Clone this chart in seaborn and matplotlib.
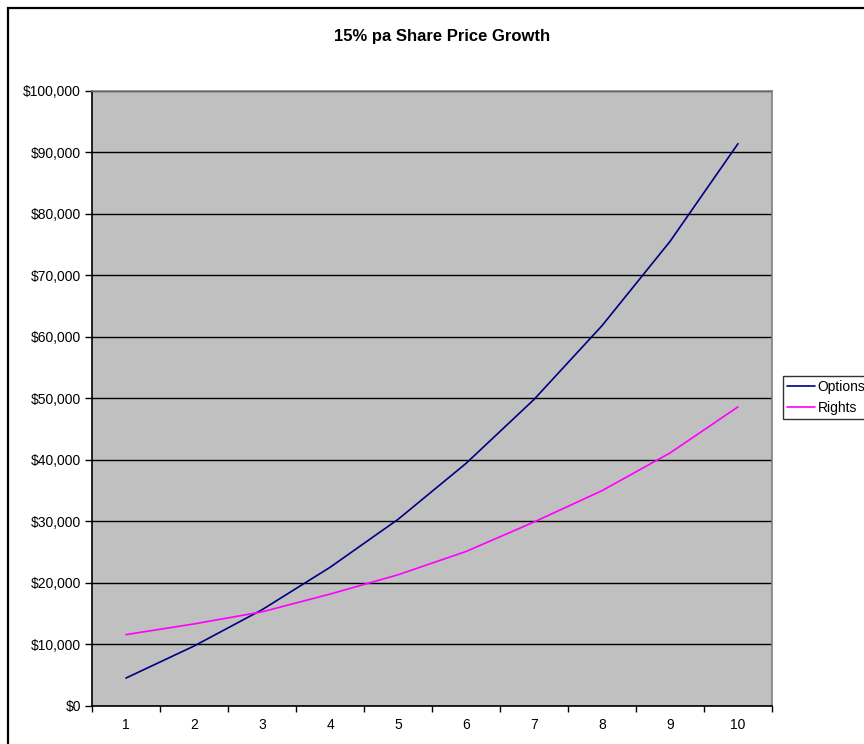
import matplotlib
matplotlib.use("Agg")
import matplotlib.pyplot as plt
from matplotlib.patches import Rectangle
from matplotlib.ticker import FuncFormatter, FixedLocator
import numpy as np
import pandas as pd
import seaborn as sns

years = [1, 2, 3, 4, 5, 6, 7, 8, 9, 10]
options = [4500, 9700, 15600, 22500, 30300, 39400, 49800, 61800, 75500, 91400]
rights = [11560, 13300, 15260, 18150, 21290, 25080, 29870, 34970, 41100, 48600]
series_names = ["Options", "Rights"]
series_colors = ["#000080", "#FF00FF"]
title = "15% pa Share Price Growth"

df = pd.DataFrame({
    "Year": years * 2,
    "Value": options + rights,
    "Series": [series_names[0]] * len(years) + [series_names[1]] * len(years),
})

sns.set_style("white")
plt.rcParams["font.family"] = ["Liberation Sans", "DejaVu Sans"]
plt.rcParams["text.color"] = "black"
plt.rcParams["xtick.color"] = "black"
plt.rcParams["ytick.color"] = "black"
plt.rcParams["xtick.labelcolor"] = "black"
plt.rcParams["ytick.labelcolor"] = "black"
plt.rcParams["axes.labelcolor"] = "black"

W, H = 864, 744
fig = plt.figure(figsize=(W / 100, H / 100), dpi=100)
fig.patch.set_facecolor("white")

# outer chart frame (runs past the right and bottom edges)
fig.add_artist(Rectangle((8 / W, -0.05), 1.2, 1 - 8 / H + 0.05,
                         transform=fig.transFigure, fill=False,
                         edgecolor="black", linewidth=1.6))

left, right, top, bottom = 92, 772, 90.8, 705.7
ax = fig.add_axes([left / W, 1 - bottom / H, (right - left) / W, (bottom - top) / H])
ax.set_facecolor("#C0C0C0")

sns.lineplot(data=df, x="Year", y="Value", hue="Series", hue_order=series_names,
             palette=dict(zip(series_names, series_colors)), linewidth=1.2,
             ax=ax, legend=False)

ax.set_xlim(0.5, 10.5)
ax.set_ylim(0, 100000)
ax.set_xlabel("")
ax.set_ylabel("")

ax.yaxis.set_major_locator(FixedLocator(np.arange(0, 100001, 10000)))
ax.yaxis.set_major_formatter(FuncFormatter(lambda v, p: f"${v:,.0f}"))
ax.grid(axis="y", color="black", linewidth=1.0)
ax.set_axisbelow(True)

ax.xaxis.set_major_locator(FixedLocator(np.arange(0.5, 10.6, 1)))
ax.xaxis.set_major_formatter(FuncFormatter(lambda v, p: ""))
ax.xaxis.set_minor_locator(FixedLocator(years))
ax.xaxis.set_minor_formatter(FuncFormatter(lambda v, p: f"{int(round(v))}"))
ax.tick_params(axis="x", which="major", direction="out", length=4, width=1, color="black", bottom=True)
ax.tick_params(axis="x", which="minor", length=0, pad=9, labelsize=10, bottom=True, labelcolor="black")
ax.tick_params(axis="y", direction="out", length=5, width=1, color="black", labelsize=10, pad=3,
               left=True, labelcolor="black")

for side in ["left", "bottom"]:
    ax.spines[side].set_color("black")
    ax.spines[side].set_linewidth(1.2)
for side in ["top", "right"]:
    ax.spines[side].set_visible(True)
    ax.spines[side].set_color("#808080")
    ax.spines[side].set_linewidth(1.2)

fig.text(442 / W, 1 - 37 / H, title, ha="center", va="center",
         fontsize=12, fontweight="bold", color="black")

handles = [plt.Line2D([], [], color=c, linewidth=1.2) for c in series_colors]
leg = fig.legend(handles, series_names, loc="upper left",
                 bbox_to_anchor=(783 / W, 1 - 376 / H), fontsize=10,
                 frameon=True, fancybox=False, handlelength=2.0,
                 handletextpad=0.2, borderpad=0.3, labelspacing=0.5,
                 borderaxespad=0)
for t in leg.get_texts():
    t.set_color("black")
leg.get_frame().set_edgecolor("black")
leg.get_frame().set_linewidth(1.0)
leg.get_frame().set_facecolor("white")

fig.savefig("out.png", dpi=100)
